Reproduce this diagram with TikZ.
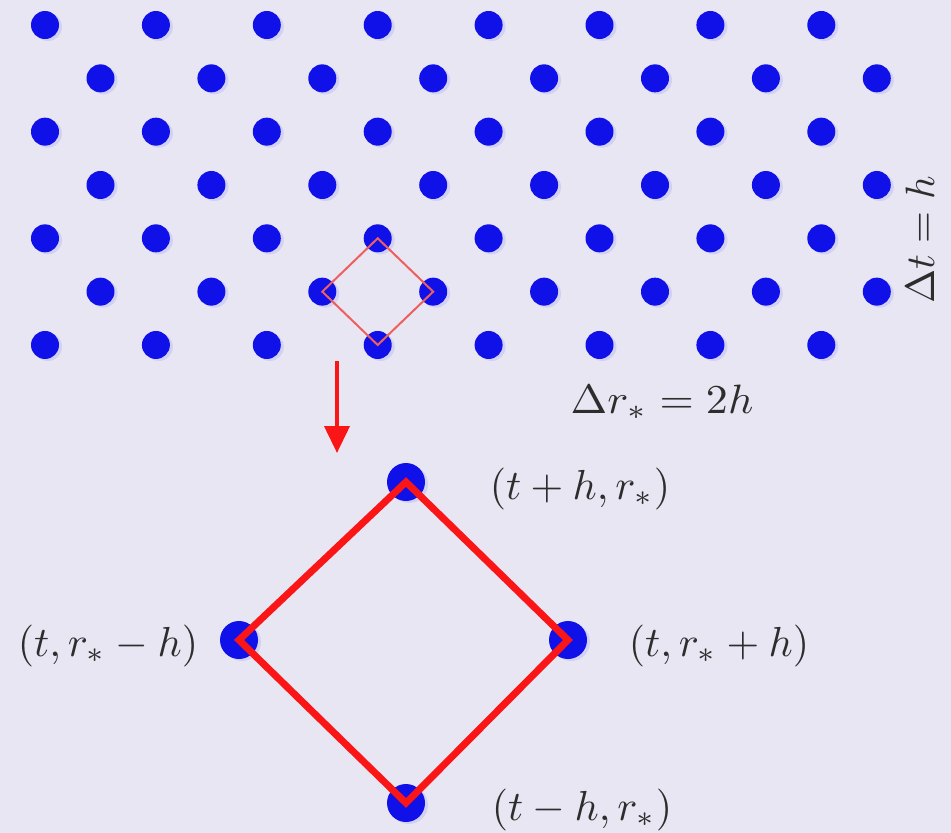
\documentclass[tikz,border=0pt]{standalone}
\usetikzlibrary{arrows.meta,shadows}
\definecolor{bg}{RGB}{232,230,242}
\definecolor{dotblue}{RGB}{16,16,232}
\definecolor{thinred}{RGB}{238,95,95}
\definecolor{thickred}{RGB}{250,22,22}
\definecolor{txt}{RGB}{45,45,45}
\tikzset{
  dotbase/.style={circle, fill=dotblue, inner sep=0pt,
    drop shadow={shadow xshift=3pt, shadow yshift=-2pt, fill=dotblue!35, opacity=0.35}},
  smalldot/.style={dotbase, minimum size=28pt},
  bigdot/.style={dotbase, minimum size=38pt},
  thindiamond/.style={draw=thinred, line width=2pt, line join=miter},
  thickdiamond/.style={draw=thickred, line width=7pt, line join=miter},
  downarrow/.style={draw=thickred, line width=4pt, -{Triangle[width=25pt,length=27pt]}},
  lbl/.style={text=txt, scale=4.2, inner sep=0pt},
  axislbl/.style={text=txt, inner sep=0pt, anchor=base}
}
\begin{document}
\begin{tikzpicture}[x=1pt,y=-1pt]
\fill[bg] (0,0) rectangle (951,833);
\useasboundingbox (0,0) rectangle (951,833);
% lattice
\foreach \i in {0,...,6}{
  \foreach \j in {0,...,7}{
    \pgfmathsetmacro\xx{45+110.9*\j+55.5*mod(\i,2)}
    \pgfmathsetmacro\yy{25+53.33*\i}
    \node[smalldot] (d\i-\j) at (\xx,\yy) {};
  }
}
\draw[thindiamond] (d4-3.center) -- (d5-3.center) -- (d6-3.center) -- (d5-2.center) -- cycle;
% labels of spacing
\node[axislbl, rotate=90, scale=4.1] (dt) at (934,240) {$\Delta t=h$};
\node[axislbl, xscale=4.4, yscale=4.1] (dr) at (662,413) {$\Delta r_*=2h$};
% arrow
\coordinate (a1) at (337,361);
\coordinate (a2) at (337,453);
\draw[downarrow] (a1) -- (a2);
% enlarged stencil
\node[bigdot] (bt) at (406,482) {};
\node[bigdot] (bl) at (239,640) {};
\node[bigdot] (br) at (568,640) {};
\node[bigdot] (bb) at (406,803) {};
\draw[thickdiamond] (bt.center) -- (br.center) -- (bb.center) -- (bl.center) -- cycle;
\node[lbl] (lt) at (580,489) {$(t+h,r_*)$};
\node[lbl] (ll) at (108,646) {$(t,r_*-h)$};
\node[lbl] (lr) at (719,646) {$(t,r_*+h)$};
\node[lbl] (lb) at (582,810) {$(t-h,r_*)$};
\end{tikzpicture}
\end{document}
